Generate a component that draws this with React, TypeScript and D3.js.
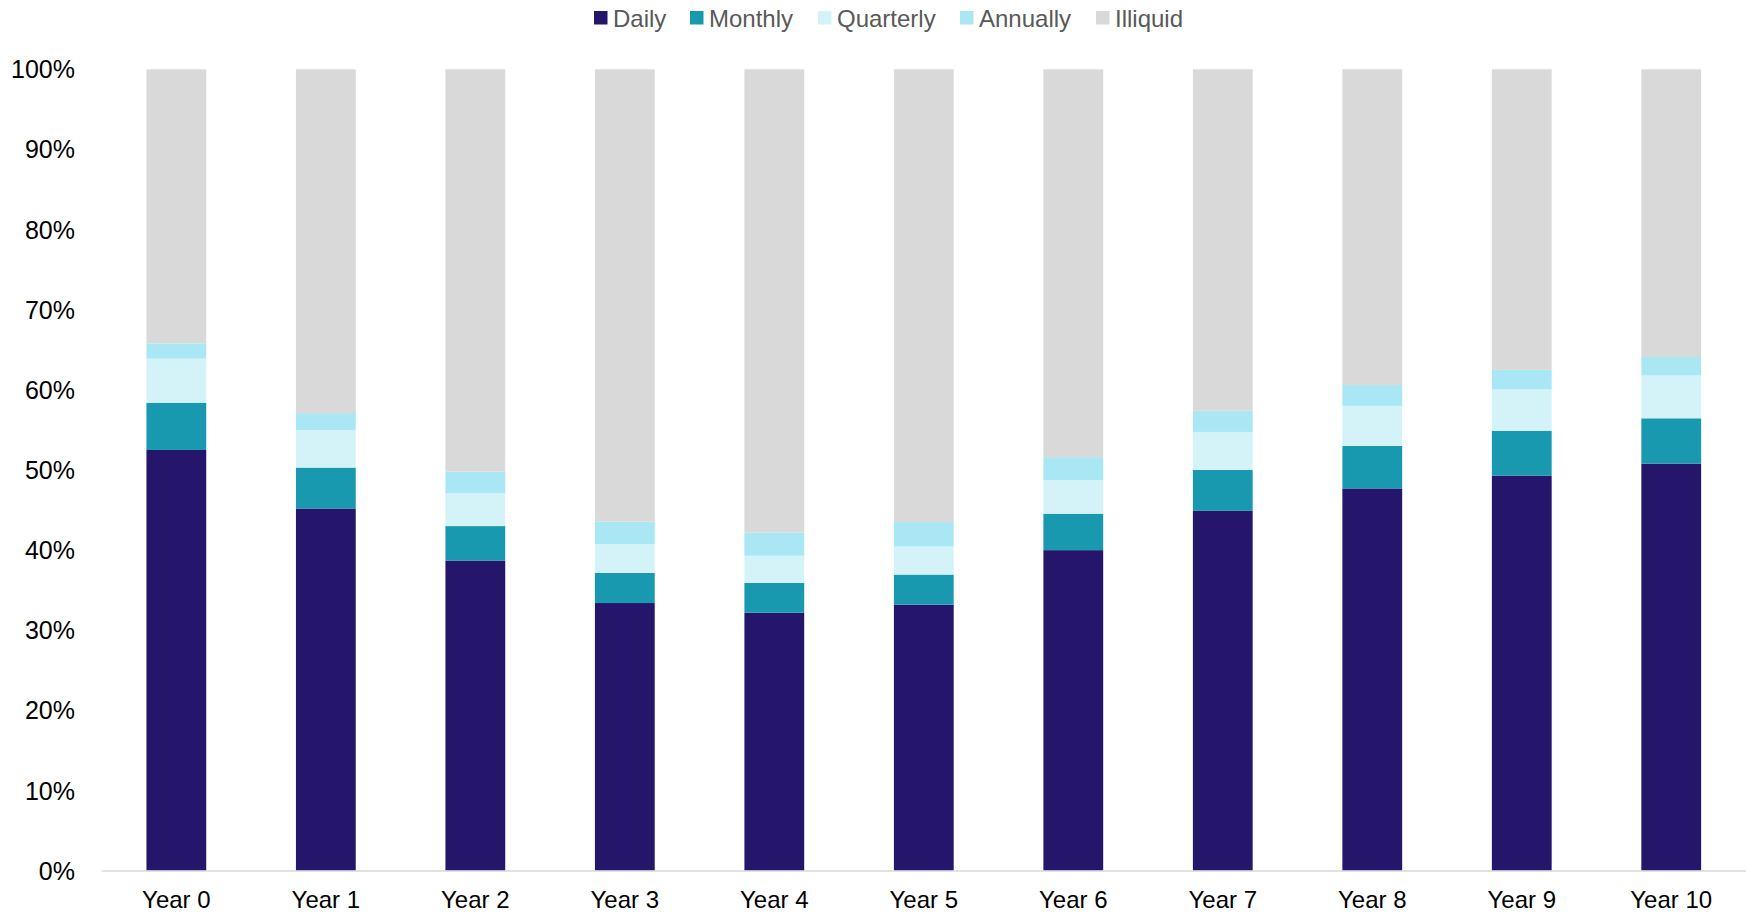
import React, { useEffect } from "react";
import * as d3 from "d3";

const categories = ["Year 0", "Year 1", "Year 2", "Year 3", "Year 4", "Year 5", "Year 6", "Year 7", "Year 8", "Year 9", "Year 10"];
const seriesNames = ["Daily", "Monthly", "Quarterly", "Annually", "Illiquid"];
const daily = [52.5, 45.2, 38.7, 33.4, 32.2, 33.2, 40.0, 44.9, 47.7, 49.3, 50.8];
const monthly = [5.9, 5.1, 4.3, 3.75, 3.7, 3.75, 4.55, 5.1, 5.3, 5.6, 5.65];
const quarterly = [5.5, 4.7, 4.1, 3.6, 3.4, 3.5, 4.2, 4.75, 5.0, 5.15, 5.35];
const annually = [1.9, 2.1, 2.7, 2.8, 2.9, 3.05, 2.85, 2.65, 2.6, 2.45, 2.3];
const illiquid = [34.2, 42.9, 50.2, 56.45, 57.8, 56.5, 48.4, 42.6, 39.4, 37.5, 35.9];
const yTicks = [0, 10, 20, 30, 40, 50, 60, 70, 80, 90, 100];

const colors = ["#26166b", "#1899af", "#d4f3f8", "#a8e7f3", "#d9d9d9"];
const legendX = [594, 690, 818, 960, 1096];

const W = 1748;
const H = 913;
const FONT = "'Liberation Sans', Arial, sans-serif";

export default function App() {
  useEffect(() => {
    document.body.style.margin = "0";
  }, []);

  const rows = categories.map((c, i) => ({
    cat: c,
    Daily: daily[i],
    Monthly: monthly[i],
    Quarterly: quarterly[i],
    Annually: annually[i],
    Illiquid: illiquid[i],
  }));
  const stacked = d3.stack<any>().keys(seriesNames)(rows);

  const x = d3.scaleBand().domain(categories).range([101.6, 1746]).paddingInner(0.6).paddingOuter(0.3);
  const y = d3.scaleLinear().domain([0, 100]).range([870.7, 69.3]);

  return (
    <svg width={W} height={H} style={{ display: "block", background: "#fff" }} fontFamily={FONT}>
      {stacked.map((s, si) => (
        <g key={s.key} fill={colors[si]}>
          {s.map((d, i) => (
            <rect
              key={i}
              x={x(categories[i])}
              y={y(d[1])}
              width={x.bandwidth()}
              height={Math.max(0, y(d[0]) - y(d[1]))}
            />
          ))}
        </g>
      ))}
      <line x1={101.6} x2={1746} y1={871} y2={871} stroke="#d9d9d9" strokeWidth={1.5} />
      {yTicks.map((t) => (
        <text key={t} x={75} y={y(t)} textAnchor="end" dominantBaseline="central" fontSize={25} fill="#000">
          {t + "%"}
        </text>
      ))}
      {categories.map((c) => (
        <text key={c} x={(x(c) as number) + x.bandwidth() / 2} y={908} textAnchor="middle" fontSize={24} fill="#000">
          {c}
        </text>
      ))}
      {seriesNames.map((n, i) => (
        <g key={n} transform={`translate(${legendX[i]},0)`}>
          <rect x={0} y={11} width={13.5} height={13.5} fill={colors[i]} />
          <text x={19} y={26.5} fontSize={24} fill="#595959">
            {n}
          </text>
        </g>
      ))}
    </svg>
  );
}
